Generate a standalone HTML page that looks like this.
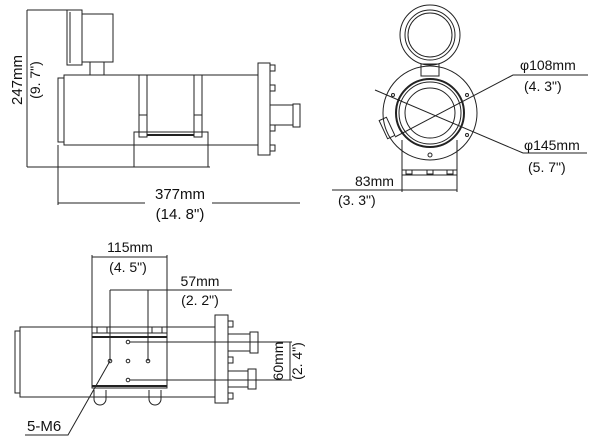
<!DOCTYPE html>
<html><head><style>
html,body{margin:0;padding:0;background:#fff;}
svg{display:block;}
text{font-family:"Liberation Sans",sans-serif;fill:#111;}
</style></head><body>
<svg width="600" height="444" viewBox="0 0 600 444" xmlns="http://www.w3.org/2000/svg">
<g fill="none" stroke="#222" stroke-width="1">
<line x1="27" y1="10" x2="27" y2="167"/>
<line x1="27" y1="10" x2="68" y2="10"/>
<line x1="27" y1="167" x2="210" y2="167"/>
<rect x="67" y="10" width="15" height="55"/>
<line x1="70" y1="12" x2="70" y2="63"/>
<rect x="82" y="14" width="31" height="48"/>
<rect x="90" y="62" width="14" height="13"/>
<rect x="64" y="75" width="194" height="70"/>
<rect x="58" y="78" width="6" height="64"/>
<rect x="139" y="75" width="8" height="62"/>
<rect x="194" y="75" width="8" height="62"/>
<line x1="139" y1="115" x2="147" y2="115"/>
<line x1="194" y1="115" x2="202" y2="115"/>
<rect x="134" y="132" width="74" height="35"/>
<line x1="147" y1="135" x2="194" y2="135" stroke-width="2"/>
<rect x="258" y="63" width="12" height="92"/>
<rect x="270" y="65" width="5" height="6"/><rect x="270" y="85" width="5" height="6"/>
<rect x="270" y="125" width="5" height="6"/><rect x="270" y="145" width="5" height="6"/>
<rect x="270" y="105" width="23" height="20"/>
<rect x="293" y="104" width="7" height="23"/>
<line x1="58" y1="145" x2="58" y2="205"/>
<line x1="58" y1="203" x2="145" y2="203"/>
<line x1="212" y1="203" x2="300" y2="203"/>
<circle cx="430" cy="35" r="30"/>
<circle cx="430" cy="35" r="25"/>
<circle cx="430" cy="35" r="22"/>
<rect x="421" y="64" width="18" height="12"/>
<circle cx="430" cy="113" r="47"/>
<circle cx="430" cy="113" r="34" stroke-width="2"/>
<circle cx="430" cy="113" r="31"/>
<circle cx="430" cy="113" r="25"/>
<circle cx="393" cy="95" r="1.5"/><circle cx="467" cy="95" r="1.5"/>
<circle cx="467" cy="135" r="1.5"/><circle cx="430" cy="155" r="2"/>
<rect x="383" y="118" width="8" height="20" transform="rotate(-25 387 128)"/>
<path d="M402 140 V175 H457 V140"/>
<line x1="402" y1="170" x2="457" y2="170"/>
<rect x="406" y="170" width="6" height="4"/><rect x="427" y="170" width="6" height="4"/><rect x="447" y="170" width="6" height="4"/>
<line x1="402" y1="175" x2="402" y2="192"/>
<line x1="457" y1="175" x2="457" y2="192"/>
<line x1="332" y1="190" x2="457" y2="190"/>
<polyline points="375,90 523,153 587,153"/>
<polyline points="395,137 513,75 588,75"/>
<rect x="20" y="327" width="195" height="70"/>
<rect x="15" y="331" width="5" height="62"/>
<rect x="92" y="333" width="75" height="55"/>
<line x1="92" y1="337" x2="167" y2="337" stroke-width="2"/>
<line x1="92" y1="386" x2="167" y2="386" stroke-width="2"/>
<rect x="97" y="327" width="10" height="6"/><rect x="152" y="327" width="10" height="6"/>
<path d="M94 390 v9 a6 6 0 0 0 12 0 v-9"/><path d="M149 390 v9 a6 6 0 0 0 12 0 v-9"/>
<rect x="215" y="315" width="13" height="88"/>
<rect x="228" y="321" width="5" height="6"/><rect x="228" y="357" width="5" height="6"/><rect x="228" y="393" width="5" height="6"/>
<rect x="228" y="334" width="22" height="17"/><rect x="250" y="332" width="8" height="21"/>
<rect x="228" y="371" width="20" height="16"/><rect x="248" y="369" width="8" height="20"/>
<circle cx="128" cy="342" r="1.8"/><circle cx="110" cy="361" r="1.8"/><circle cx="128" cy="361" r="1.8"/>
<circle cx="148" cy="361" r="1.8"/><circle cx="128" cy="380" r="1.8"/>
<line x1="92" y1="255" x2="92" y2="333"/>
<line x1="167" y1="255" x2="167" y2="333"/>
<line x1="92" y1="257" x2="167" y2="257"/>
<line x1="110" y1="290" x2="110" y2="361"/>
<line x1="148" y1="290" x2="148" y2="361"/>
<line x1="110" y1="290" x2="232" y2="290"/>
<line x1="130" y1="342" x2="292" y2="342"/>
<line x1="130" y1="380" x2="292" y2="380"/>
<line x1="167" y1="327" x2="215" y2="327"/>
<line x1="167" y1="397" x2="215" y2="397"/>
<line x1="290" y1="342" x2="290" y2="380"/>
<polyline points="110,361 68,435 25,435"/>
</g>
<text x="22" y="80" font-size="15" transform="rotate(-90 22 80)" text-anchor="middle">247mm</text>
<text x="40" y="80" font-size="14" transform="rotate(-90 40 80)" text-anchor="middle">(9. 7")</text>
<text x="180" y="199" font-size="15" text-anchor="middle">377mm</text>
<text x="180" y="219" font-size="15" text-anchor="middle">(14. 8")</text>
<text x="520" y="70" font-size="14">φ108mm</text>
<text x="524" y="91" font-size="14">(4. 3")</text>
<text x="524" y="150" font-size="14">φ145mm</text>
<text x="528" y="172" font-size="14">(5. 7")</text>
<text x="355" y="186" font-size="14">83mm</text>
<text x="338" y="205" font-size="14">(3. 3")</text>
<text x="130" y="252" font-size="14" text-anchor="middle">115mm</text>
<text x="128" y="272" font-size="14" text-anchor="middle">(4. 5")</text>
<text x="200" y="286" font-size="14" text-anchor="middle">57mm</text>
<text x="200" y="305" font-size="14" text-anchor="middle">(2. 2")</text>
<text x="283" y="361" font-size="14" transform="rotate(-90 283 361)" text-anchor="middle">60mm</text>
<text x="302" y="361" font-size="14" transform="rotate(-90 302 361)" text-anchor="middle">(2. 4")</text>
<text x="27" y="431" font-size="15">5-M6</text>
</svg>
</body></html>
